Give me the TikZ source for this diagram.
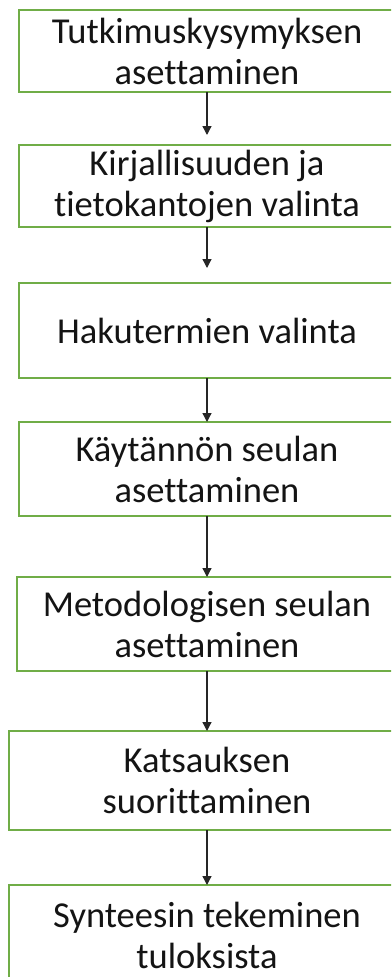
\documentclass[tikz,border=0pt]{standalone}
\usepackage{fontspec}
\setmainfont{Carlito}[Ligatures=NoCommon]
\usepackage{xcolor}
\definecolor{stagegreen}{RGB}{112,173,71}
\usepackage{tikz}
\usetikzlibrary{arrows.meta,positioning}
\tikzset{
  stage/.style={draw=stagegreen,line width=1.5pt,fill=white,%
    font=\fontsize{36.5}{41}\selectfont,text=black!92,inner sep=0pt,outer sep=0pt,%
    align=center,minimum width=376pt,minimum height=82pt},
  flow/.style={-{Triangle[length=9pt,width=9pt]},line width=1.3pt,draw=black!85},
}

\begin{document}
\begin{tikzpicture}[x=1pt,y=1pt]
\useasboundingbox (0,-977) rectangle (391,0);
\clip (0,-977) rectangle (391,0);
\node[stage] (rq) at (207,-51) {Tutkimuskysymyksen\\asettaminen};
\node[stage,below=53pt of rq] (lit) {Kirjallisuuden ja\\tietokantojen valinta};
\node[stage,below=56pt of lit,minimum height=95pt] (terms) {Hakutermien valinta};
\node[stage,below=44pt of terms,minimum height=94pt] (prac) {Käytännön seulan\\asettaminen};
\node[stage,below=61pt of prac,minimum height=94pt,minimum width=380pt] (meth) {Metodologisen seulan\\asettaminen};
\node[stage,below=60pt of meth,minimum height=99pt,minimum width=396pt] (rev) {Katsauksen\\suorittaminen};
\node[stage,below=55pt of rev,minimum height=100pt,minimum width=396pt] (syn) {Synteesin tekeminen\\tuloksista};
\draw[flow,shorten >=10pt] (rq) -- (lit);
\draw[flow,shorten >=15pt] (lit) -- (terms);
\draw[flow] (terms) -- (prac);
\draw[flow] (prac) -- (meth);
\draw[flow] (meth) -- (rev);
\draw[flow] (rev) -- (syn);
\end{tikzpicture}
\end{document}
